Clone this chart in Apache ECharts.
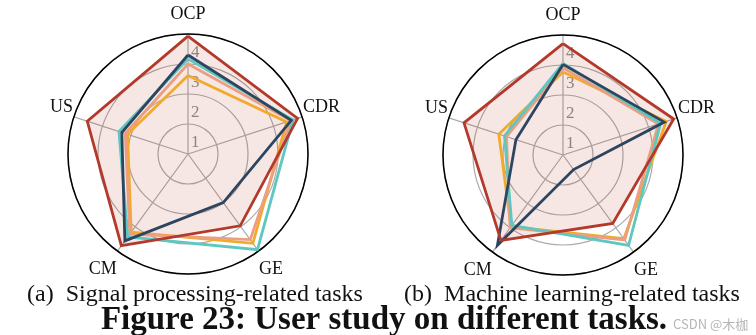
<!DOCTYPE html>
<html>
<head>
<meta charset="utf-8">
<script src="https://cdn.jsdelivr.net/npm/echarts@6/dist/echarts.min.js"></script>
<style>
html,body{margin:0;padding:0;background:#fff;}
#c{width:756px;height:335px;}
</style>
</head>
<body>
<div id="c"></div>
<script>
// Axis categories (clockwise from top)
var categories = ['OCP', 'CDR', 'GE', 'CM', 'US'];
var radiusTicks = [1, 2, 3, 4];

// (a) Signal processing-related tasks
var a_red    = [3.93, 3.84, 2.96, 3.78, 3.53];
var a_navy   = [3.30, 3.62, 2.00, 3.58, 2.32];
var a_teal   = [3.17, 3.68, 3.94, 3.42, 2.42];
var a_salmon = [3.00, 3.60, 3.53, 3.30, 2.20];
var a_orange = [2.62, 3.46, 3.68, 3.22, 2.12];

// (b) Machine learning-related tasks
var b_red    = [3.71, 3.88, 2.82, 3.52, 3.47];
var b_navy   = [3.02, 3.55, 0.60, 3.72, 1.65];
var b_teal   = [3.05, 3.42, 3.72, 2.90, 2.05];
var b_salmon = [2.91, 3.35, 3.50, 3.00, 1.98];
var b_orange = [2.77, 3.62, 3.45, 2.95, 2.25];

var subCaptions = ['(a)  Signal processing-related tasks', '(b)  Machine learning-related tasks'];
var figTitle = 'Figure 23: User study on different tasks.';
var watermark = 'CSDN @木枷';

var COLORS = {red:'#b3392b', navy:'#2e4560', teal:'#5ec7c1', salmon:'#eb9f80', orange:'#f2aa2a'};
var SERIF = '"Liberation Serif","DejaVu Serif",serif';
var STEP = 360 / categories.length;

function toPolar(vals){
  var d = vals.map(function(v,i){ return [v, i*STEP]; });
  d.push([vals[0], 360]);
  return d;
}

// per-label padding so that each name sits ~140px from the centre
var namePad = {0:[0,0,10,0], 1:[0,0,0,0], 2:[8,0,0,0], 3:[8,0,0,0], 4:[0,0,0,0]};
var rich = {};
categories.forEach(function(c,k){ rich['n'+k] = {fontFamily:SERIF, fontSize:18, color:'#111', padding:namePad[k]}; });

function polarAxes(idx){
  return {
    angle: {
      polarIndex: idx, type:'value', min:0, max:360, interval:STEP, startAngle:90, clockwise:true,
      axisLine:{show:true, lineStyle:{color:'#000', width:1.5}},
      axisTick:{show:false},
      splitLine:{show:true, lineStyle:{color:'#aaaaaa', width:1.2}},
      axisLabel:{
        show:true, margin:1,
        fontFamily:SERIF, fontSize:18, color:'#111', rich:rich,
        formatter:function(v){ var k=Math.round(v/STEP); return k<categories.length ? '{n'+k+'|'+categories[k]+'}' : ''; }
      }
    },
    radius: {
      polarIndex: idx, type:'value', min:0, max:radiusTicks[radiusTicks.length-1], interval:1,
      axisLine:{show:false}, axisTick:{show:false},
      splitLine:{show:true, lineStyle:{color:'#aaaaaa', width:1.2}},
      axisLabel:{
        show:true, margin:-3, align:'left', fontFamily:SERIF, fontSize:17, color:'#8c8c8c',
        rich:{t:{fontFamily:SERIF, fontSize:17, color:'#8c8c8c', padding:[38,0,0,0]}},
        formatter:function(v){ return radiusTicks.indexOf(v)>=0 ? '{t|'+v+'}' : ''; }
      }
    }
  };
}

var pa = polarAxes(0), pb = polarAxes(1);

function lineSeries(idx, vals, color, z){
  return {type:'line', coordinateSystem:'polar', polarIndex:idx, data:toPolar(vals),
    symbol:'none', smooth:false, silent:true, z:z, clip:false,
    lineStyle:{color:color, width:2.8, join:'miter'}};
}
function areaSeries(idx, vals, color){
  return {type:'line', coordinateSystem:'polar', polarIndex:idx, data:toPolar(vals),
    symbol:'none', silent:true, z:1, clip:false,
    lineStyle:{width:0, opacity:0}, areaStyle:{color:color, opacity:0.12}};
}

var series = [];
[[0,[a_red,a_navy,a_teal,a_salmon,a_orange]],[1,[b_red,b_navy,b_teal,b_salmon,b_orange]]].forEach(function(p){
  var i=p[0], s=p[1];
  series.push(areaSeries(i, s[0], COLORS.red));
  series.push(lineSeries(i, s[4], COLORS.orange, 3));
  series.push(lineSeries(i, s[3], COLORS.salmon, 4));
  series.push(lineSeries(i, s[2], COLORS.teal, 5));
  series.push(lineSeries(i, s[1], COLORS.navy, 6));
  series.push(lineSeries(i, s[0], COLORS.red, 7));
});

var chart = echarts.init(document.getElementById('c'), null, {renderer:'canvas'});
chart.setOption({
  animation:false,
  backgroundColor:'#fff',
  polar:[{center:[188,154], radius:120},{center:[563,155], radius:120}],
  angleAxis:[pa.angle, pb.angle],
  radiusAxis:[pa.radius, pb.radius],
  title:[
    {text:subCaptions[0], left:190, top:278, textAlign:'center', textStyle:{fontFamily:SERIF, fontSize:24, fontWeight:'normal', color:'#111'}},
    {text:subCaptions[1], left:567, top:278, textAlign:'center', textStyle:{fontFamily:SERIF, fontSize:24, fontWeight:'normal', color:'#111'}},
    {text:figTitle, left:379, top:299, textAlign:'center', textStyle:{fontFamily:SERIF, fontSize:33, fontWeight:'bold', color:'#111'}},
    {text:watermark, left:668, top:313, textStyle:{fontFamily:'"Noto Sans CJK SC","Noto Sans",sans-serif', fontSize:13, fontWeight:'normal', color:'#b5b5b5'}}
  ],
  series:series
});
</script>
</body>
</html>
